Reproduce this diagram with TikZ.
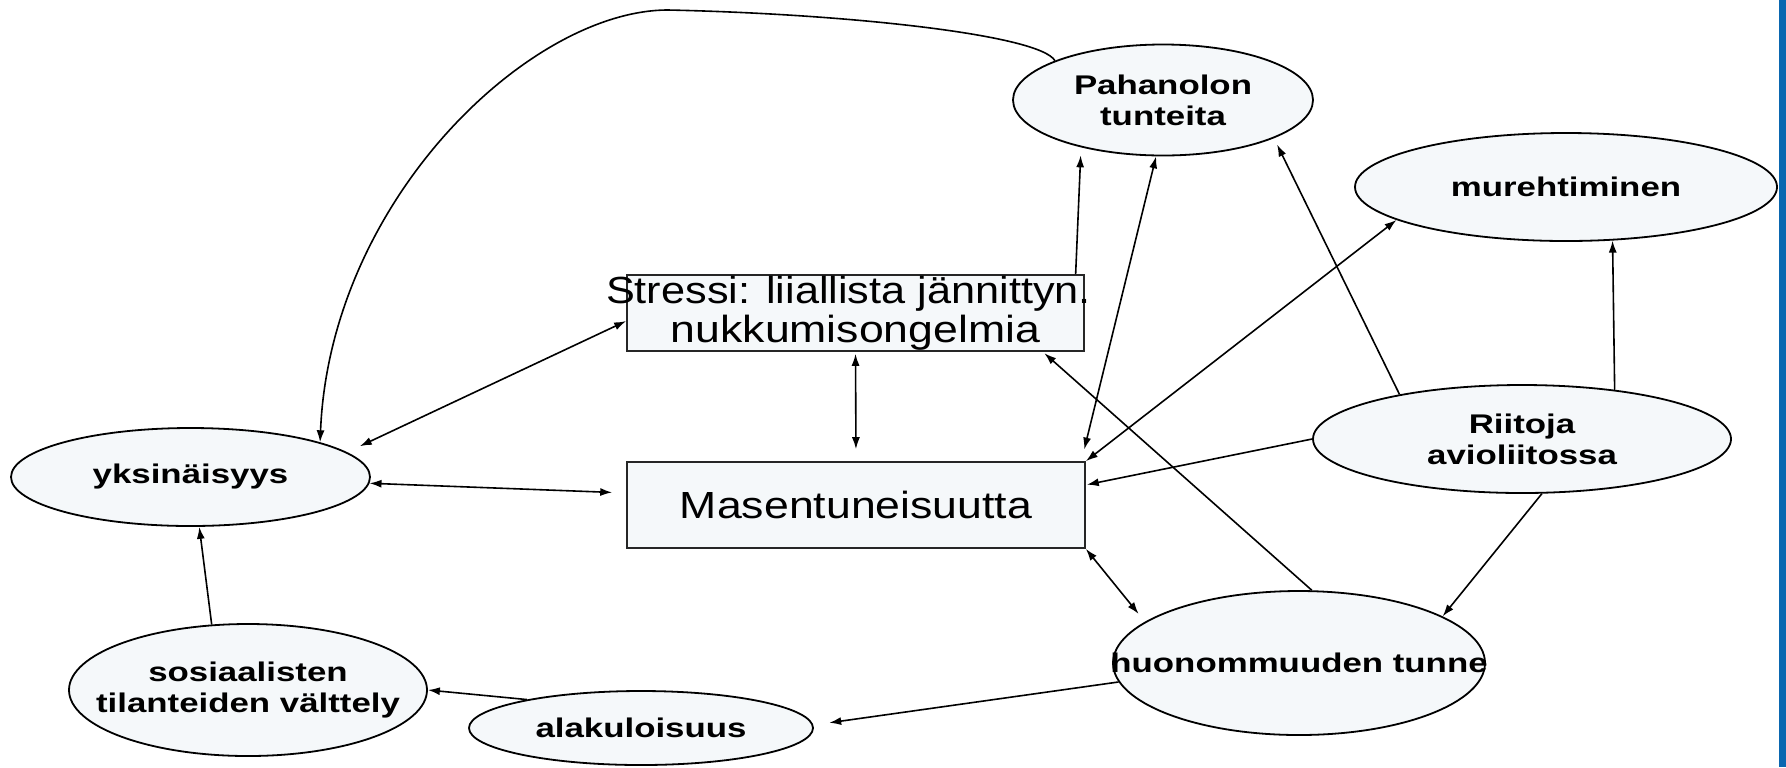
\documentclass[tikz,border=0pt]{standalone}
\usepackage{fontspec}
\usepackage{graphicx}
\usepackage{tikz}
\usetikzlibrary{arrows.meta,shapes.geometric}
\newfontfamily\lblfont[FakeStretch=1.29]{Liberation Sans}
\newfontfamily\boxfont[FakeStretch=1.18]{Liberation Sans}
\definecolor{nodefill}{HTML}{F5F8FA}
\definecolor{edgeblue}{HTML}{0A67B0}
\newcommand{\zw}[1]{\makebox[0pt]{#1}}
\tikzset{
  oval/.style={ellipse, draw=black, line width=0.9pt, fill=nodefill, inner sep=0pt, align=center,
    font=\lblfont\bfseries\fontsize{13.5}{15.5}\selectfont},
  textbox/.style={rectangle, draw=black!85, line width=0.8pt, fill=nodefill, inner sep=0pt, align=center,
    font=\boxfont\fontsize{18.9}{19.5}\selectfont},
  link/.style={black, line width=0.8pt, -{Latex[length=6pt,width=4pt]}},
  bilink/.style={black, line width=0.8pt, {Latex[length=6pt,width=4pt]}-{Latex[length=6pt,width=4pt]}}
}

\begin{document}
\begin{tikzpicture}[x=0.5pt, y=-0.5pt]
  \useasboundingbox (0,0) rectangle (1786,767);
  \fill[edgeblue] (1779,0) rectangle (1786,767);

  % nodes
  \node[oval, minimum width=150pt, minimum height=55.5pt] (pahanolon) at (1163,100) {Pahanolon\\tunteita};
  \node[oval, minimum width=211pt, minimum height=54pt] (murehti) at (1566,187) {murehtiminen};
  \node[oval, minimum width=179.5pt, minimum height=49pt] (yksin) at (190.5,477) {yksinäisyys};
  \node[oval, minimum width=209pt, minimum height=54pt] (riitoja) at (1522,439) {Riitoja\\avioliitossa};
  \node[oval, minimum width=186pt, minimum height=72pt] (huonom) at (1299,663) {\zw{huonommuuden tunne}};
  \node[oval, minimum width=179pt, minimum height=66pt] (sosiaal) at (248,690) {\zw{sosiaalisten}\\\zw{tilanteiden välttely}};
  \node[oval, minimum width=172pt, minimum height=37pt] (alakulo) at (641,728) {alakuloisuus};
  \node[textbox, minimum width=228.5pt, minimum height=38pt] (stressi) at (855.5,313)
    {\zw{\scalebox{0.97}[1]{Stressi: liiallista jännittyn.}\hspace*{7pt}}\\\zw{nukkumisongelmia}};
  \node[textbox, minimum width=229pt, minimum height=43pt] (masent) at (856,505) {Masentuneisuutta};

  % connectors
  \draw[link] (pahanolon.160) .. controls (1040,35) and (850,14) .. (668,10)
    .. controls (530,10) and (330,200) .. (yksin.15);
  \draw[bilink, shorten >=7pt] (stressi.182) -- (yksin.9);
  \draw[bilink, shorten <=1pt, shorten >=6pt] (stressi.south) -- (masent.north);
  \draw[bilink, shorten >=7pt] (yksin.-2) -- (masent.177);
  \draw[link, shorten >=4pt] (stressi.10) -- (pahanolon.-150);
  \draw[bilink, shorten >=6pt] (pahanolon.-97) -- (masent.11);
  \draw[link, shorten >=3.5pt] (riitoja.160) -- (pahanolon.-19);
  \draw[bilink] (murehti.191) -- (masent.north east);
  \draw[link] (riitoja.28) -- (murehti.-49);
  \draw[link, shorten >=0.5pt] (riitoja.west) -- (masent.5);
  \draw[link, shorten >=1pt] (huonom.80) -- ([xshift=-21pt]stressi.south east);
  \draw[link] (riitoja.-70) -- (huonom.18);
  \draw[bilink, shorten >=5pt] (masent.south east) -- (huonom.165);
  \draw[link, shorten >=8pt] (huonom.186) -- (alakulo.1);
  \draw[link] (alakulo.166) -- (sosiaal.east);
  \draw[link] (sosiaal.119) -- (yksin.-80);
\end{tikzpicture}
\end{document}
